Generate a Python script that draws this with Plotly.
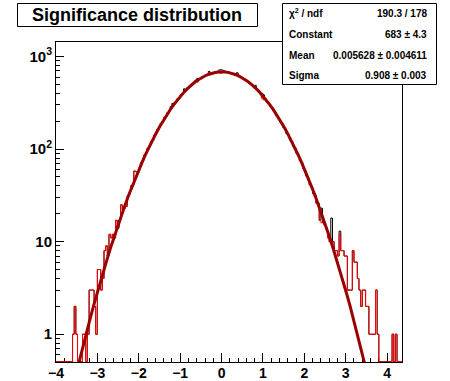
import numpy as np
import plotly.graph_objects as go

# ---------------- data ----------------
bin_low = -4.0
bin_width = 0.04
n_bins = 209

red_counts = [
    0, 0, 0, 0, 0, 0, 0, 0, 0, 0,
    1, 2, 1, 0, 0, 0, 1, 1, 0, 1,
    3, 3, 3, 2, 1, 5, 5, 3, 4, 8,
    9, 7, 12, 11, 12, 11, 17, 14, 17, 25,
    22, 23, 24, 31, 33, 40, 41, 58, 57, 56,
    62, 71, 75, 86, 90, 102, 108, 120, 126, 141,
    148, 165, 172, 190, 198, 219, 226, 248, 259, 280,
    290, 314, 325, 349, 360, 384, 396, 421, 433, 458,
    470, 488, 511, 520, 545, 530, 575, 583, 604, 610,
    629, 631, 650, 658, 664, 668, 679, 674, 668, 660,
    690, 671, 680, 672, 676, 662, 659, 648, 636, 630,
    611, 603, 590, 570, 560, 538, 529, 506, 494, 468,
    458, 436, 421, 396, 355, 340, 349, 324, 313, 290,
    281, 258, 249, 227, 218, 198, 190, 172, 165, 147,
    142, 126, 121, 107, 102, 90, 86, 75, 72, 62,
    58, 51, 48, 41, 39, 33, 32, 26, 26, 17,
    16, 16, 15, 14, 11, 10, 10, 10, 8, 8,
    7, 12, 8, 8, 7, 7, 3, 3, 3, 8,
    6, 6, 4, 3, 2, 3, 3, 2, 2, 1,
    1, 1, 1, 3, 1, 0, 0, 0, 0, 0,
    0, 0, 0, 1, 0, 1, 0, 0, 0,
]

black_counts = [
    0, 0, 0, 0, 0, 0, 0, 0, 0, 0,
    1, 2, 1, 0, 0, 0, 1, 1, 0, 1,
    3, 3, 3, 2, 1, 5, 5, 3, 4, 8,
    9, 7, 12, 11, 12, 11, 17, 14, 17, 25,
    22, 23, 24, 31, 33, 40, 41, 58, 57, 56,
    62, 71, 75, 86, 90, 102, 108, 120, 126, 141,
    148, 165, 172, 190, 198, 219, 226, 248, 259, 288,
    312, 314, 325, 349, 360, 384, 396, 448, 433, 458,
    470, 488, 511, 520, 556, 580, 575, 583, 604, 610,
    629, 631, 690, 658, 664, 668, 679, 674, 712, 720,
    714, 700, 680, 672, 676, 662, 659, 648, 636, 668,
    628, 603, 590, 570, 560, 538, 529, 506, 494, 468,
    488, 436, 421, 396, 400, 385, 349, 324, 313, 290,
    281, 258, 249, 227, 218, 198, 190, 172, 165, 147,
    142, 126, 121, 107, 102, 90, 86, 75, 72, 62,
    58, 51, 48, 41, 39, 33, 32, 26, 26, 17,
    23, 16, 15, 14, 11, 10, 18, 10, 8, 8,
    7, 13, 8, 8, 7, 7, 3, 3, 3, 8,
    6, 6, 4, 3, 2, 3, 3, 2, 2, 1,
    1, 1, 1, 3, 1, 0, 0, 0, 0, 0,
    0, 0, 0, 1, 0, 1, 0, 0, 0,
]

fit_constant = 683.0
fit_mean = 0.005628
fit_sigma = 0.908

title_text = "Significance distribution"
stats_labels = ["χ<sup>2</sup> / ndf", "Constant", "Mean", "Sigma"]
stats_values = ["190.3 / 178", "683 ± 4.3", "0.005628 ± 0.004611", "0.908 ± 0.003"]

x_tick_vals = [-4, -3, -2, -1, 0, 1, 2, 3, 4]
x_tick_text = ["−4", "−3", "−2", "−1", "0", "1", "2", "3", "4"]
y_tick_vals = [1, 10, 100, 1000]
y_tick_text = ["1", "10", "10<sup>2</sup>", "10<sup>3</sup>"]

# ---------------- geometry ----------------
W, H = 450, 381
ML, MR, MT, MB = 56, 48, 42, 19
PW, PH = W - ML - MR, H - MT - MB
x_range = [-4.0, 4.36]
y_range = [-0.30, 3.157]
y_floor = 10 ** (y_range[0] + 0.004)

def px2x(px):
    return (px - ML) / PW

def py2y(py):
    return 1 - (py - MT) / PH

edges = bin_low + bin_width * np.arange(n_bins + 1)

def step_y(counts):
    vals = [c if c > 0 else y_floor for c in counts]
    return vals + [vals[-1]]

x_fit = np.linspace(x_range[0], x_range[1], 101)
y_fit = fit_constant * np.exp(-0.5 * ((x_fit - fit_mean) / fit_sigma) ** 2)

FONT = "Liberation Sans, Arial, Helvetica, sans-serif"

fig = go.Figure()
fig.add_trace(go.Scatter(x=edges, y=step_y(black_counts), mode="lines",
                         line=dict(color="black", width=1, shape="hv"),
                         hoverinfo="skip", showlegend=False))
fig.add_trace(go.Scatter(x=edges, y=step_y(red_counts), mode="lines",
                         line=dict(color="#ff0000", width=1, shape="hv"),
                         hoverinfo="skip", showlegend=False))
fig.add_trace(go.Scatter(x=x_fit, y=y_fit, mode="lines",
                         line=dict(color="#990000", width=3),
                         hoverinfo="skip", showlegend=False))

minor_y = [m * d for d in (0.1, 1, 10, 100, 1000) for m in range(2, 10)]

fig.update_xaxes(range=x_range, showline=True, mirror=True, linecolor="black",
                 linewidth=1, showgrid=False, zeroline=False, automargin=False,
                 tickmode="array", tickvals=x_tick_vals, ticktext=x_tick_text,
                 ticks="inside", ticklen=9, tickcolor="black", tickwidth=1,
                 ticklabelstandoff=-2,
                 minor=dict(ticks="inside", dtick=0.2, tick0=0, ticklen=4.5,
                            tickcolor="black", tickwidth=1, showgrid=False),
                 tickfont=dict(family=FONT, size=14, color="black", weight="bold"),
                 layer="below traces")
fig.update_yaxes(type="log", range=y_range, showline=True, mirror=True,
                 linecolor="black", linewidth=1, showgrid=False, zeroline=False,
                 automargin=False,
                 tickmode="array", tickvals=y_tick_vals, ticktext=y_tick_text,
                 ticks="inside", ticklen=8, tickcolor="black", tickwidth=1,
                 minor=dict(ticks="inside", tickmode="array", tickvals=minor_y,
                            ticklen=4, tickcolor="black", tickwidth=1, showgrid=False),
                 tickfont=dict(family=FONT, size=15, color="black", weight="bold"),
                 layer="below traces")

shapes = [
    dict(type="rect", xref="paper", yref="paper",
         x0=px2x(17.5), x1=px2x(257.5), y0=py2y(26.5), y1=py2y(3.5),
         line=dict(color="black", width=1), fillcolor="white", layer="above"),
    dict(type="rect", xref="paper", yref="paper",
         x0=px2x(282.5), x1=px2x(436.5), y0=py2y(84.5), y1=py2y(3.5),
         line=dict(color="black", width=1), fillcolor="white", layer="above"),
]

annotations = [
    dict(text=title_text, xref="paper", yref="paper", x=px2x(137), y=py2y(15),
         xanchor="center", yanchor="middle", showarrow=False,
         font=dict(family=FONT, size=18, color="black", weight="bold")),
]
row_y = [13, 34, 55, 76]
for lab, val, ry in zip(stats_labels, stats_values, row_y):
    annotations.append(dict(text=lab, xref="paper", yref="paper", x=px2x(287), y=py2y(ry),
                            xanchor="left", yanchor="middle", showarrow=False,
                            font=dict(family=FONT, size=10, color="black", weight="bold")))
    annotations.append(dict(text=val, xref="paper", yref="paper", x=px2x(429), y=py2y(ry),
                            xanchor="right", yanchor="middle", showarrow=False,
                            font=dict(family=FONT, size=10, color="black", weight="bold")))

fig.update_layout(width=W, height=H, margin=dict(l=ML, r=MR, t=MT, b=MB, pad=0),
                  paper_bgcolor="white", plot_bgcolor="white",
                  shapes=shapes, annotations=annotations, showlegend=False)

fig.write_html("out.html", config={"displayModeBar": False, "staticPlot": True},
               post_script="document.body.style.margin='0';document.body.style.overflow='hidden';")
